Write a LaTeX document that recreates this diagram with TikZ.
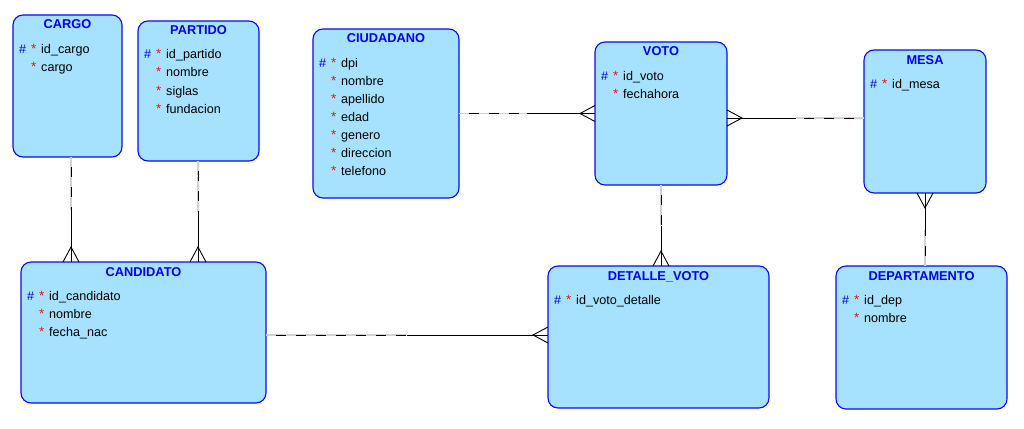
\documentclass[tikz,border=0pt]{standalone}
\usepackage{fontspec}
\setmainfont{Liberation Sans}
\usetikzlibrary{calc}
\definecolor{efill}{RGB}{166,226,253}
\definecolor{eborder}{RGB}{10,10,240}
\definecolor{etext}{RGB}{0,0,235}
\definecolor{estar}{RGB}{235,20,20}
\definecolor{egap}{RGB}{210,210,210}
\tikzset{
  entity/.style={draw=eborder, fill=efill, line width=1.1pt, rounded corners=10pt,
    inner sep=0pt, outer sep=0pt, anchor=north west},
  etitle/.style={inner sep=0pt, anchor=base, text=etext, font=\fontsize{12.8}{14}\selectfont\bfseries},
  attr/.style={inner sep=0pt, anchor=base west, font=\fontsize{12.6}{14}\selectfont},
  pkmark/.style={inner sep=0pt, anchor=base west, text=etext, font=\fontsize{12.6}{14}\selectfont},
  starmark/.style={inner sep=0pt, anchor=base west, text=estar, font=\fontsize{13.5}{14}\selectfont},
  conn/.style={draw=black, line width=0.9pt},
  gapline/.style={draw=egap, line width=1.1pt},
  dashline/.style={draw=black, line width=0.9pt, dash pattern=on 10pt off 10pt, dash phase=10pt},
}
\newcommand\etitleat[2]{\node[etitle] (#1-t) at ([yshift=-14pt]#1.north) {#2};}
\newcommand\pkrow[2]{%
  \node[pkmark] (#1-h0) at ([xshift=6pt,yshift=-38pt]#1.north west) {\#};
  \node[starmark] (#1-s0) at ([xshift=18pt,yshift=-38pt]#1.north west) {*};
  \node[attr] (#1-a0) at ([xshift=28pt,yshift=-38pt]#1.north west) {#2};}
\newcommand\arow[3]{%
  \node[starmark] (#1-s#2) at ([xshift=18pt,yshift={-38pt-18pt*#2}]#1.north west) {*};
  \node[attr] (#1-a#2) at ([xshift=28pt,yshift={-38pt-18pt*#2}]#1.north west) {#3};}
\newcommand\relline[2]{%
  \coordinate (ra) at (#1);
  \coordinate (rb) at (#2);
  \coordinate (rm) at ($(ra)!0.5!(rb)$);
  \draw[gapline] (ra) -- (rm);
  \draw[dashline] (ra) -- (rm);
  \draw[conn] (rm) -- (rb);
  \draw[conn] ($(rb)!8pt!90:(ra)$) -- ($(rb)!15pt!(ra)$) -- ($(rb)!8pt!-90:(ra)$);}
\begin{document}
\begin{tikzpicture}[x=1pt,y=-1pt]
\useasboundingbox (0,0) rectangle (1024,428);
\fill[white] (0,0) rectangle (1024,428);
% entities
\node[entity, minimum width=109pt, minimum height=142pt] (cargo) at (13,15) {};
\node[entity, minimum width=121pt, minimum height=140pt] (partido) at (138,21) {};
\node[entity, minimum width=146pt, minimum height=169pt] (ciud) at (313,29) {};
\node[entity, minimum width=132pt, minimum height=143pt] (voto) at (595,42) {};
\node[entity, minimum width=122pt, minimum height=143pt] (mesa) at (864,50) {};
\node[entity, minimum width=245pt, minimum height=141pt] (cand) at (21,262) {};
\node[entity, minimum width=221pt, minimum height=142pt] (det) at (548,266) {};
\node[entity, minimum width=171pt, minimum height=143pt] (dep) at (836,266) {};
% titles
\etitleat{cargo}{CARGO}
\etitleat{partido}{PARTIDO}
\etitleat{ciud}{CIUDADANO}
\etitleat{voto}{VOTO}
\etitleat{mesa}{MESA}
\etitleat{cand}{CANDIDATO}
\etitleat{det}{DETALLE\_VOTO}
\etitleat{dep}{DEPARTAMENTO}
% attributes
\pkrow{cargo}{id\_cargo}
\arow{cargo}{1}{cargo}
\pkrow{partido}{id\_partido}
\arow{partido}{1}{nombre}
\arow{partido}{2}{siglas}
\arow{partido}{3}{fundacion}
\pkrow{ciud}{dpi}
\arow{ciud}{1}{nombre}
\arow{ciud}{2}{apellido}
\arow{ciud}{3}{edad}
\arow{ciud}{4}{genero}
\arow{ciud}{5}{direccion}
\arow{ciud}{6}{telefono}
\pkrow{voto}{id\_voto}
\arow{voto}{1}{fechahora}
\pkrow{mesa}{id\_mesa}
\pkrow{cand}{id\_candidato}
\arow{cand}{1}{nombre}
\arow{cand}{2}{fecha\_nac}
\pkrow{det}{id\_voto\_detalle}
\pkrow{dep}{id\_dep}
\arow{dep}{1}{nombre}
% relationship helper coordinates
\coordinate (xc) at (71,0);
\coordinate (xp) at (198,0);
\coordinate (yvm) at (0,118);
\coordinate (ycd) at (0,335);
% relationships
\relline{ciud.east}{voto.west}
\relline{mesa.west |- yvm}{voto.east |- yvm}
\relline{voto.south}{det.north -| voto.south}
\relline{dep.north -| mesa.south}{mesa.south}
\relline{cargo.south -| xc}{cand.north -| xc}
\relline{partido.south -| xp}{cand.north -| xp}
\relline{cand.east |- ycd}{det.west |- ycd}
\end{tikzpicture}
\end{document}
